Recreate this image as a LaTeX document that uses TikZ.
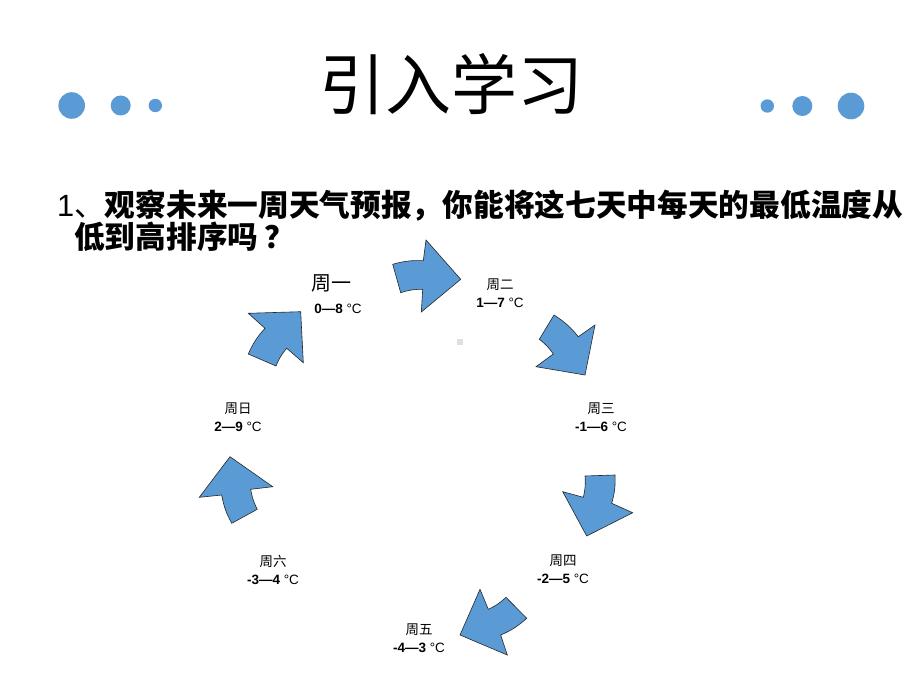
\documentclass[tikz,border=0pt]{standalone}
\usepackage{fontspec}
\setmainfont{Liberation Sans}
\newfontfamily\cjk{Noto Sans CJK SC}
\definecolor{blu}{HTML}{5B9BD5}
\definecolor{arrfill}{HTML}{5B9BD5}
\begin{document}
\begin{tikzpicture}[x=1pt,y=-1pt,
  dot/.style={fill=blu},
  arr/.style={fill=arrfill,draw=black!85,line width=0.6pt,line join=miter},
  day/.style={align=center,inner sep=0pt,font=\fontsize{13.5}{18}\selectfont},
  bo/.style={bend left=9},
  bi/.style={bend right=9},
  ]
\useasboundingbox[fill=white] (0,0) rectangle (920,690);
% decorative dots
\fill[dot] (71.7,105.5) circle (13.3);
\fill[dot] (120.7,105.5) circle (10);
\fill[dot] (155.3,105.5) circle (6.7);
\fill[dot] (767.3,106) circle (6.7);
\fill[dot] (802.3,106) circle (10);
\fill[dot] (851,106) circle (13.3);
% title
\node[inner sep=0pt,font=\cjk\fontsize{66}{70}\selectfont] (title) at (451,84) {引入学习};
% question
\node[anchor=west,inner sep=0pt,font=\fontsize{30.7}{34}\selectfont] (q1) at (57,206) {1{\cjk 、}{\cjk\bfseries 观察未来一周天气预报，你能将这七天中每天的最低温度从}};
\node[anchor=west,inner sep=0pt,font=\cjk\bfseries\fontsize{30.7}{34}\selectfont] (q2) at (74,237) {低到高排序吗\hspace{6pt}？};
% day labels
\node[inner sep=0pt,font=\cjk\fontsize{20}{22}\selectfont] (mon) at (331,283) {周一};
\node[inner sep=0pt,font=\fontsize{13.5}{16}\selectfont] (mont) at (338,309) {\textbf{0—8} °C};
\node[day] (tue) at (500,293) {{\cjk 周二}\\\textbf{1—7} °C};
\node[day] (wed) at (601,417) {{\cjk 周三}\\\textbf{-1—6} °C};
\node[day] (thu) at (563,569) {{\cjk 周四}\\\textbf{-2—5} °C};
\node[day] (fri) at (419,638) {{\cjk 周五}\\\textbf{-4—3} °C};
\node[day] (sat) at (273,570) {{\cjk 周六}\\\textbf{-3—4} °C};
\node[day] (sun) at (238,417) {{\cjk 周日}\\\textbf{2—9} °C};
% small grey mark
\fill[black!12] (457,339) rectangle (463,345);
% arrows
\filldraw[arr] (392.7,264.3) to[bo] (423.3,260.7) -- (426,240) -- (460.7,279.3) -- (421.3,312) -- (422.7,289.3) to[bi] (400.7,292.7) -- cycle;
\filldraw[arr] (554,315) to[bo] (578.3,336.7) -- (595,325) -- (585,375) -- (536,366.7) -- (553.3,354) to[bi] (539.3,339.3) -- cycle;
\filldraw[arr] (585,476) -- (615,475) to[bo] (611.7,503.3) -- (632.7,512.7) -- (586.7,536) -- (562.7,491.7) -- (583.3,497.3) to[bi] (585,476) -- cycle;
\filldraw[arr] (460,635) -- (480,589.3) -- (488.3,609.3) to[bi] (506,597.3) -- (526.7,618.3) to[bo] (500.7,635) -- (507.3,655) -- cycle;
\filldraw[arr] (230,456.7) -- (272.7,486.7) -- (250.7,489.3) to[bi] (257.3,509.3) -- (231.7,523.3) to[bo] (221.7,495) -- (199.3,497.3) -- cycle;
\filldraw[arr] (248.3,313.3) -- (300.7,311.7) -- (303.3,362.7) -- (286.7,348.3) to[bi] (276,366) -- (248.3,354) to[bo] (265,328.3) -- cycle;
\end{tikzpicture}
\end{document}
